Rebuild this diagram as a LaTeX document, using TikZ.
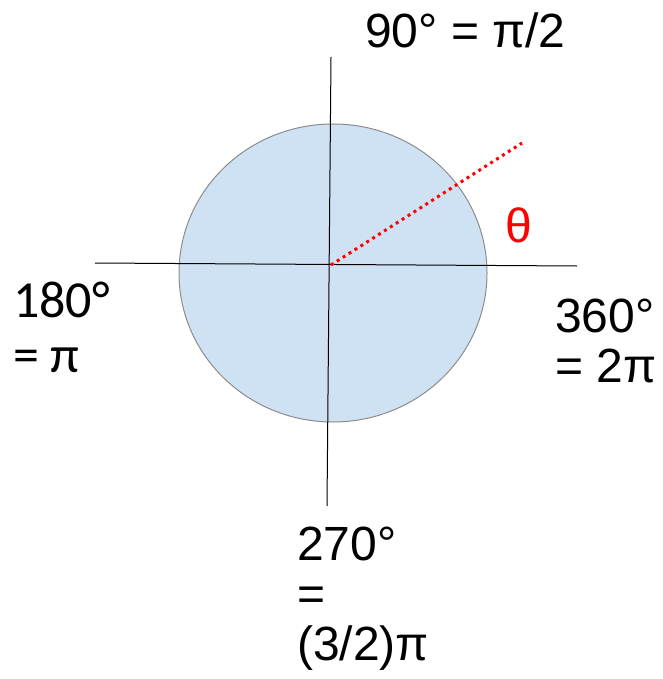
\documentclass[tikz,border=0pt]{standalone}
\usepackage{fontspec}
\setmainfont{Liberation Sans}
\newfontfamily\carlitofont{Carlito}
\usepackage{tikz,xcolor}
\usetikzlibrary{calc}

\definecolor{discblue}{RGB}{207,226,243}
\definecolor{rimgray}{RGB}{140,140,140}

\tikzset{
  lbl/.style={inner sep=0pt, font=\fontsize{48}{50}\selectfont, align=left},
  axis/.style={black, line width=1pt},
  angleray/.style={red, line width=3pt, dash pattern=on 3pt off 4pt}
}

\begin{document}
\begin{tikzpicture}[x=1pt,y=-1pt]
\useasboundingbox (0,0) rectangle (662,679);

  % the disc
  \filldraw[fill=discblue, draw=rimgray, line width=1pt] (333,273) ellipse (154 and 149);

  % axes
  \coordinate (O) at (331,265);
  \coordinate (xL) at (95,263);
  \coordinate (xR) at (577,266);
  \coordinate (yT) at (331,57);
  \coordinate (yB) at (327,506);
  \draw[axis] (xL) -- (xR);
  \draw[axis] (yT) -- (yB);

  % dotted ray
  \coordinate (R) at (522,143);
  \draw[angleray] (O) -- (R);

  \node[lbl, red] (theta) at (519,225) {θ};

  % angle labels
  \node[lbl, anchor=base west] (ninety) at (365,48) {90° = π/2};
  \node[lbl, anchor=north west, font=\carlitofont\fontsize{52}{55}\selectfont] (oneeighty) at (13,282) {180°\\= π};
  \node[lbl, anchor=north west] (threesixty) at (555,299) {360°\\= 2π};
  \node[lbl, anchor=north west] (twoseventy) at (297,527) {270°\\=\\(3/2)π};

\end{tikzpicture}
\end{document}
